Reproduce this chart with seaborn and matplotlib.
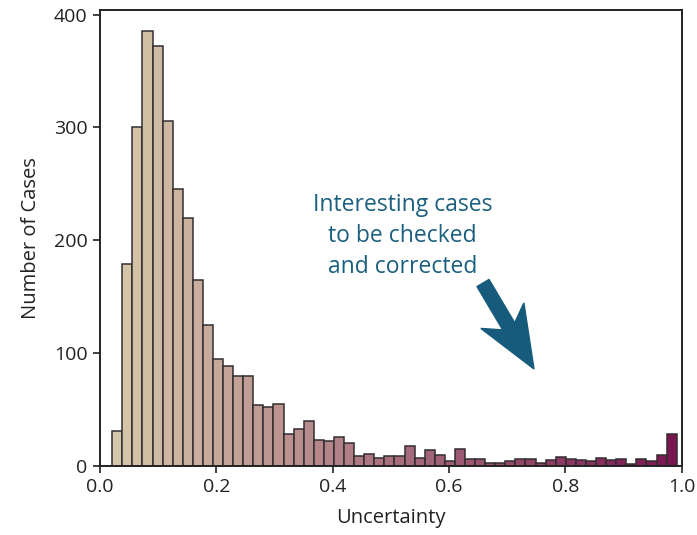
import numpy as np
import pandas as pd
import matplotlib
matplotlib.use("Agg")
import matplotlib.pyplot as plt
import matplotlib.patches as mpatches
import seaborn as sns

# histogram counts (56 equal bins between min and max uncertainty)
counts = [31, 179, 300, 385, 372, 306, 245, 220, 165, 125, 95, 89, 80, 80,
          54, 52, 55, 28, 33, 40, 23, 22, 26, 20, 9, 11, 7, 9, 9, 18, 7, 14,
          10, 4, 15, 6, 6, 3, 3, 4, 6, 6, 3, 5, 8, 6, 5, 4, 7, 5, 6, 2, 6, 4,
          10, 28]
u_min = 0.021
u_max = 0.9914
xticks = [0.0, 0.2, 0.4, 0.6, 0.8, 1.0]
yticks = [0, 100, 200, 300, 400]
note = "Interesting cases\nto be checked\nand corrected"

edges = np.linspace(u_min, u_max, len(counts) + 1)
df = pd.DataFrame({"u": (edges[:-1] + edges[1:]) / 2, "n": counts})

sns.set_style("white")
plt.rcParams['font.family'] = ['Open Sans', 'DejaVu Sans']

fig, ax = plt.subplots(figsize=(6.97, 5.35), dpi=100)
fig.subplots_adjust(left=0.1435, right=0.978, top=0.9813, bottom=0.129)

sns.histplot(data=df, x="u", weights="n", bins=len(counts),
             binrange=(u_min, u_max), ax=ax,
             edgecolor="#332e30", linewidth=1.1, alpha=1)

# tan -> plum gradient along the bars
c0 = np.array([214, 200, 170]) / 255
c1 = np.array([122, 22, 82]) / 255
n = len(ax.patches)
for i, p in enumerate(ax.patches):
    t = i / (n - 1)
    p.set_facecolor(c0 + (c1 - c0) * t)

ax.set_xlim(0, 1.0)
ax.set_ylim(0, 404)
ax.set_xticks(xticks)
ax.set_xticklabels([f"{v:.1f}" for v in xticks])
ax.set_yticks(yticks)
ax.set_xlabel("Uncertainty", fontsize=14.5, color="#222222", labelpad=8)
ax.set_ylabel("Number of Cases", fontsize=14.5, color="#222222", labelpad=9)
ax.tick_params(axis="both", direction="out", length=5, width=1.2,
               labelsize=14, colors="#222222", bottom=True, left=True, pad=4)
for s in ax.spines.values():
    s.set_color("#222222")
    s.set_linewidth(1.4)

ax.text(0.52, 204, note, ha="center", va="center", fontsize=16.5,
        color="#1b5f80", linespacing=1.38)

arrow = mpatches.FancyArrow(4.83, 2.52, 0.51, -0.86, width=0.14,
                            head_width=0.5, head_length=0.62, overhang=0.2,
                            length_includes_head=True, color="#175b7c",
                            transform=fig.dpi_scale_trans)
fig.patches.append(arrow)

fig.savefig("out.png", dpi=100)
